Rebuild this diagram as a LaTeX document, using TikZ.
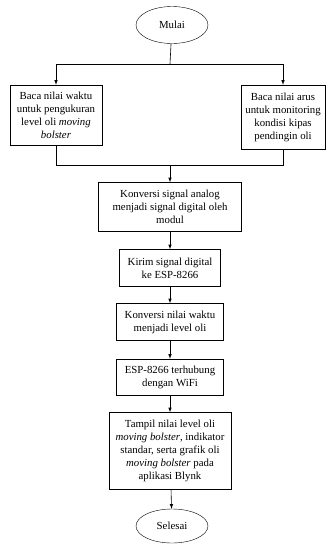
\documentclass[tikz,border=0pt]{standalone}
\usepackage{fontspec}
\setmainfont{Liberation Serif}
\usetikzlibrary{shapes,arrows,positioning}

\begin{document}
\begin{tikzpicture}[x=1pt, y=-1pt, font=\fontsize{10.8}{13}\selectfont]
		\tikzstyle{Terminal} 	= [ellipse, draw, fill=white, minimum width=72pt, minimum height=37pt, inner sep=0pt]
		\tikzstyle{Process}	= [rectangle, draw, fill=white, align=center, inner sep=1pt]
		\tikzstyle{Flow}		= [-latex, black, semithick]
		\tikzstyle{Line}		= [black, semithick]

		\useasboundingbox (0, 0) rectangle (326, 544);

		\node (mulai) at (172, 25) [Terminal] {Mulai};
		\node (baca1) at (56, 115) [Process][minimum width=92pt, minimum height=60pt] {Baca nilai waktu\\ untuk pengukuran\\ level oli \textit{moving}\\ \textit{bolster}};
		\node (baca2) at (283, 117) [Process][minimum width=84pt, minimum height=64pt] {Baca nilai arus\\ untuk monitoring\\ kondisi kipas\\ pendingin oli};
		\node (konv1) at (170, 207) [Process][minimum width=143pt, minimum height=49pt] {Konversi signal analog\\ menjadi signal digital oleh\\ modul};
		\node (kirim) at (170, 268) [Process][minimum width=101pt, minimum height=37pt] {Kirim signal digital\\ ke ESP-8266};
		\node (konv2) at (170, 322) [Process][minimum width=107pt, minimum height=37pt] {Konversi nilai waktu\\ menjadi level oli};
		\node (esp) at (170, 377) [Process][minimum width=107pt, minimum height=36pt] {ESP-8266 terhubung\\ dengan WiFi};
		\node (tampil) at (170, 451) [Process][minimum width=122pt, minimum height=77pt] {Tampil nilai level oli\\ \textit{moving bolster}, indikator\\ standar, serta grafik oli\\ \textit{moving bolster} pada\\ aplikasi Blynk};
		\node (selesai) at (172, 526) [Terminal][minimum height=34pt] {Selesai};

		\coordinate (split) at (170, 64);
		\coordinate (join) at (170, 165);

		\draw (mulai) to (split) [Line];
		\draw (split) -| (baca1) [Flow];
		\draw (split) -| (baca2) [Flow];
		\draw (baca1) |- (join) [Line];
		\draw (baca2) |- (join) [Line];
		\draw (join) to (konv1) [Flow];
		\draw (konv1) to (kirim) [Flow];
		\draw (kirim) to (konv2) [Flow];
		\draw (konv2) to (esp) [Flow];
		\draw (esp) to (tampil) [Flow];
		\draw (tampil) to (selesai) [Flow];
	\end{tikzpicture}
\end{document}
